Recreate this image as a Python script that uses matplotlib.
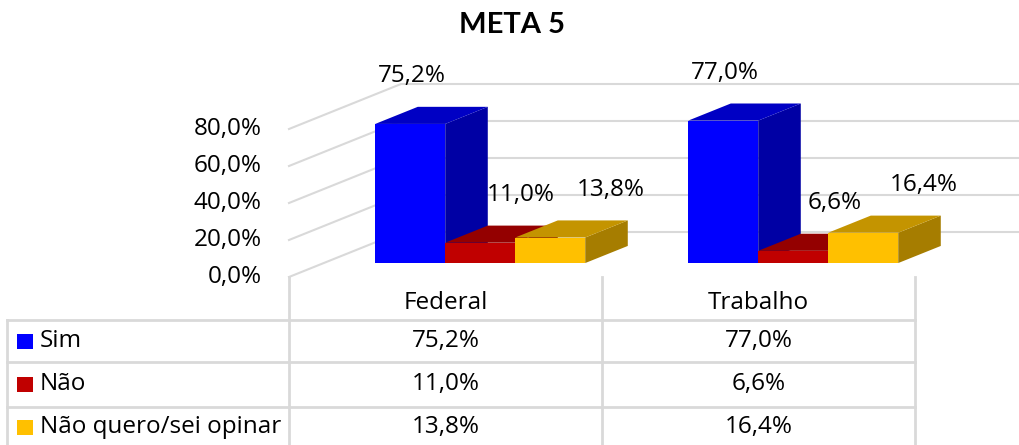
import matplotlib.pyplot as plt
from matplotlib.patches import Polygon, Rectangle

plt.rcParams["font.family"] = ["Open Sans", "DejaVu Sans"]

# data
categories = ["Federal", "Trabalho"]
series = ["Sim", "Não", "Não quero/sei opinar"]
sim = [75.2, 77.0]
nao = [11.0, 6.6]
nao_quero = [13.8, 16.4]
yticks = [0, 20, 40, 60, 80]

values = [sim, nao, nao_quero]
front_cols = ["#0000FF", "#C00000", "#FFC000"]
top_cols = ["#0000C4", "#940000", "#C49400"]
side_cols = ["#0000A4", "#7E0000", "#A67D00"]
grid_col = "#D9D9D9"
FS = 17.5


def fmt(v):
    return f"{v:.1f}%".replace(".", ",")


W, H = 1020, 445
PX = 313.0   # px per category
PY = 1.85    # px per percent
X0, Y0 = 445.5, 277.0  # pixel of category 0 / 0% on the front plane

fig = plt.figure(figsize=(W / 100, H / 100), dpi=100)
ax = fig.add_axes([0, 0, 1, 1])
ax.axis("off")
ax.set_xlim(-X0 / PX, (W - X0) / PX)
ax.set_ylim(-(H - Y0) / PY, Y0 / PY)

# fake 3d depth
DX, DY = 112 / PX, 45 / PY
d_front, d_back = 0.31, 0.69


def proj(x, v, d):
    return (x + d * DX, v + d * DY)


xmax = ax.get_xlim()[1]
# walls / gridlines
for t in yticks:
    pts = [proj(-0.5, t, 0), proj(-0.5, t, 1), proj(xmax, t, 1)]
    ax.plot([p[0] for p in pts], [p[1] for p in pts], color=grid_col, lw=1.5, zorder=1)
    ax.text(-0.5 - 27 / PX, t, fmt(t), ha="right", va="center", fontsize=FS)

# bars
bw = 70 / PX
label_dx = [37 / PX, 76 / PX, 96 / PX]
for i in range(len(categories)):
    for j, vals in enumerate(values):
        v = vals[i]
        xl = i - 1.5 * bw + j * bw
        xr = xl + bw
        side = [proj(xr, 0, d_front), proj(xr, v, d_front), proj(xr, v, d_back), proj(xr, 0, d_back)]
        top = [proj(xl, v, d_front), proj(xr, v, d_front), proj(xr, v, d_back), proj(xl, v, d_back)]
        ax.add_patch(Polygon(side, closed=True, fc=side_cols[j], ec="none", zorder=2))
        ax.add_patch(Polygon(top, closed=True, fc=top_cols[j], ec="none", zorder=2))
        fx, fy = proj(xl, 0, d_front)
        ax.add_patch(Rectangle((fx, fy), bw, v, fc=front_cols[j], ec="none", zorder=2))
        ax.text(fx + label_dx[j], fy + v + 48 / PY, fmt(v), ha="center", va="center",
                fontsize=FS, zorder=3)

# data table
def py(p):
    return (Y0 - p) / PY


def px(p):
    return (p - X0) / PX


bottom = py(H + 5)
for xb in [-0.5, 0.5, 1.5]:
    ax.plot([xb, xb], [0, bottom], color=grid_col, lw=2, zorder=1)
ax.plot([px(7), px(7)], [py(320), bottom], color=grid_col, lw=2, zorder=1)
for yl in [320, 362, 407]:
    ax.plot([px(7), 1.5], [py(yl), py(yl)], color=grid_col, lw=2, zorder=1)

for i, c in enumerate(categories):
    ax.text(i, py(303), c, ha="center", va="center", fontsize=FS)

row_y = [341, 384, 427]
for j, name in enumerate(series):
    yc = py(row_y[j])
    ax.add_patch(Rectangle((px(17), yc - 7.5 / PY), 16 / PX, 15 / PY, fc=front_cols[j], ec="none"))
    ax.text(px(40), yc, name, ha="left", va="center", fontsize=FS)
    for i in range(len(categories)):
        ax.text(i, yc, fmt(values[j][i]), ha="center", va="center", fontsize=FS)

fig.text(512 / W, 1 - 25 / H, "META 5", ha="center", va="center", fontsize=21,
         fontweight="bold", family="Lato")

fig.savefig("out.png", dpi=100, facecolor="white")
